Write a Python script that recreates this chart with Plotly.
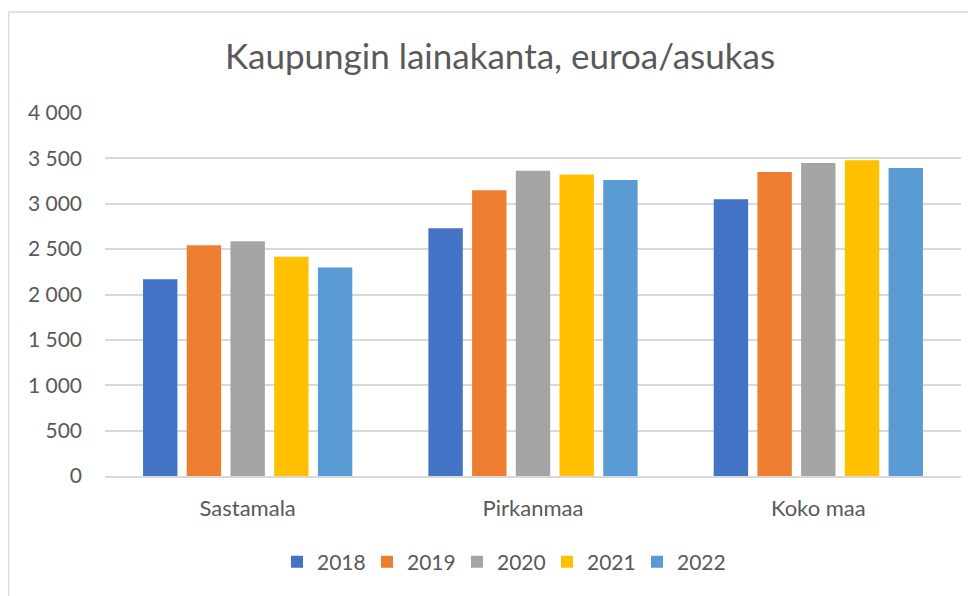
import plotly.graph_objects as go

categories = ["Sastamala", "Pirkanmaa", "Koko maa"]
years = ["2018", "2019", "2020", "2021", "2022"]
v2018 = [2168, 2729, 3049]
v2019 = [2542, 3148, 3350]
v2020 = [2586, 3365, 3449]
v2021 = [2415, 3321, 3478]
v2022 = [2297, 3262, 3394]
series = [v2018, v2019, v2020, v2021, v2022]
colors = ["#4472C4", "#ED7D31", "#A5A5A5", "#FFC000", "#5B9BD5"]
tick_vals = [0, 500, 1000, 1500, 2000, 2500, 3000, 3500, 4000]
tick_text = ["0", "500", "1 000", "1 500", "2 000", "2 500", "3 000", "3 500", "4 000"]

FONT = "Lato"
TXT = "#595959"

fig = go.Figure()
for name, vals, col in zip(years, series, colors):
    fig.add_trace(go.Bar(x=categories, y=vals, name=name, marker_color=col,
                         marker_line_width=0))

# page body has an 8px margin: figure coords = screen coords - 8
OFF = 8
W, H = 976 - OFF, 596 - OFF
L, T = 105 - OFF, 113 - OFF
R = W - (961 - OFF)
B = H - (476 - OFF)
pw, ph = W - L - R, H - T - B

def px(x):
    return (x - OFF - L) / pw

def py(y):
    return (H - B - (y - OFF)) / ph

fig.update_layout(
    width=W, height=H,
    margin=dict(l=L, r=R, t=T, b=B, autoexpand=False),
    paper_bgcolor="white", plot_bgcolor="white",
    barmode="group", bargap=0.234, bargroupgap=0.213,
    title=dict(text="Kaupungin lainakanta, euroa/asukas", x=px(500), xref="paper",
               xanchor="center", y=1 - (57 - OFF) / H, yanchor="middle",
               font=dict(family=FONT, size=35, color=TXT)),
    font=dict(family=FONT, color=TXT),
    legend=dict(orientation="h", x=px(502), xanchor="center", y=py(562), yanchor="middle",
                font=dict(family=FONT, size=21, color=TXT), traceorder="normal",
                entrywidth=45, entrywidthmode="pixels"),
    showlegend=True,
    xaxis=dict(showgrid=False, showline=True, linecolor="#D9D9D9", linewidth=1.5,
               ticks="", tickfont=dict(family=FONT, size=22, color=TXT), ticklabelstandoff=12),
    yaxis=dict(range=[0, 4000], tickvals=tick_vals, ticktext=tick_text,
               showgrid=True, gridcolor="#D9D9D9", gridwidth=1.5, zeroline=False,
               showline=False, ticks="", ticklabelstandoff=22,
               tickfont=dict(family=FONT, size=21, color=TXT)),
    shapes=[
        dict(type="line", xref="paper", yref="paper", x0=px(8.5), x1=px(8.5),
             y0=py(12), y1=py(600), line=dict(color="#D9D9D9", width=1.5)),
        dict(type="line", xref="paper", yref="paper", x0=px(8.5), x1=px(980),
             y0=py(12), y1=py(12), line=dict(color="#D9D9D9", width=1.5)),
    ],
)

fig.write_html("out.html")
